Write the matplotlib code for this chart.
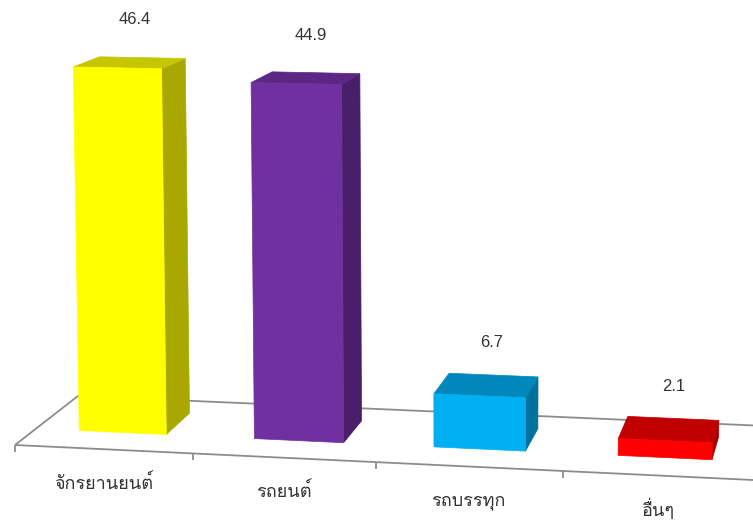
import numpy as np
import matplotlib
matplotlib.use("Agg")
import matplotlib.pyplot as plt
from matplotlib.patches import Polygon
from matplotlib import font_manager

# data
categories = ["จักรยานยนต์", "รถยนต์", "รถบรรทุก", "อื่นๆ"]
values = [46.4, 44.9, 6.7, 2.1]
front_colors = ["#FFFF00", "#7030A0", "#00B0F0", "#FF0000"]
top_colors = ["#C6C600", "#5A2785", "#0087BC", "#C00000"]
side_colors = ["#A8A800", "#4A1F6A", "#00719E", "#A80000"]

# pick an installed font that has Thai glyphs (Loma stacks tone marks without shaping)
installed = {f.name for f in font_manager.fontManager.ttflist}
thai_font = next((n for n in ["Loma", "Sarabun", "Noto Sans Thai"] if n in installed),
                 "DejaVu Sans")

# simple pinhole camera, built from vanishing points (pixel space)
origin = np.array([15.0, 445.0, 1.0])
vp_x = np.array([-13911.0, -215.5, 1.0])
vp_y = np.array([481.0, 24830.0, 1.0])
vp_z = np.array([920.0, -260.0, 1.0])
cam = np.column_stack([vp_x * -0.01262, vp_y * -3.23e-4, vp_z * 0.07482, origin])


def proj(x, y, z):
    p = cam @ np.array([x, y, z, 1.0])
    return p[0] / p[2], p[1] / p[2]


fig = plt.figure(figsize=(7.53, 5.2), dpi=100)
ax = fig.add_axes([0, 0, 1, 1])
ax.set_xlim(0, 753)
ax.set_ylim(520, 0)
ax.axis("off")

n = len(categories)
grid_kw = dict(color="#8C8C8C", lw=1.3, solid_capstyle="butt", zorder=1)

# floor outline: back, left and front edges
for pts in ([(0, 0, 1), (n, 0, 1)], [(0, 0, 0), (0, 0, 1)], [(0, 0, 0), (n, 0, 0)]):
    xy = np.array([proj(*p) for p in pts])
    ax.plot(xy[:, 0], xy[:, 1], **grid_kw)

# ticks along the front edge
for i in range(n + 1):
    tx, ty = proj(i, 0, 0)
    ax.plot([tx, tx], [ty, ty + 7], **grid_kw)

# bars
x0, x1 = 0.25, 0.75
z0, z1 = 0.32, 0.75
for i, v in enumerate(values):
    a, b = i + x0, i + x1
    front = [(a, 0, z0), (b, 0, z0), (b, v, z0), (a, v, z0)]
    top = [(a, v, z0), (b, v, z0), (b, v, z1), (a, v, z1)]
    side = [(b, 0, z0), (b, 0, z1), (b, v, z1), (b, v, z0)]
    for face, col in ((side, side_colors[i]), (top, top_colors[i]), (front, front_colors[i])):
        ax.add_patch(Polygon([proj(*p) for p in face], closed=True, facecolor=col,
                             edgecolor=col, lw=0.5, zorder=3))

    # value label above the top face
    cx, cy = proj(i + 0.5, v, (z0 + z1) / 2)
    ax.text(cx + 5, cy - 43, f"{v:.1f}", ha="center", va="center", fontsize=12,
            color="#333333", family=["Liberation Sans", "DejaVu Sans"], zorder=4)

    # category label under the front edge
    lx, ly = proj(i + 0.5, 0, 0)
    ax.text(lx, ly + 34, categories[i], ha="center", va="center", fontsize=13,
            color="#333333", family=[thai_font, "DejaVu Sans"], zorder=4)

fig.savefig("out.png", dpi=100)
